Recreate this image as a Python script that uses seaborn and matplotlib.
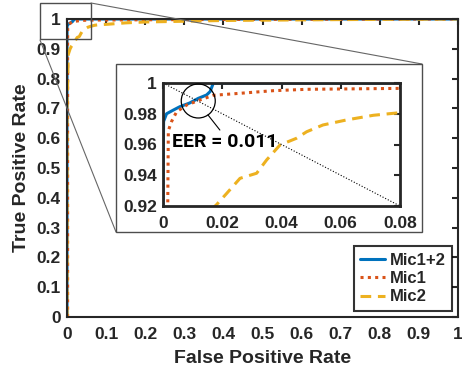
import numpy as np
import pandas as pd
import matplotlib
matplotlib.use("Agg")
import matplotlib.pyplot as plt
import seaborn as sns
from matplotlib.patches import Rectangle, Ellipse
from matplotlib.lines import Line2D

# ---- data ----
fpr_mic12 = [0, 0, 0.0002, 0.0012, 0.0035, 0.0057, 0.009, 0.0119, 0.0147, 0.0159, 0.017, 1.0]
tpr_mic12 = [0, 0.92, 0.975, 0.980, 0.9824, 0.9846, 0.987, 0.990, 0.9922, 0.9944, 1.0, 1.0]

fpr_mic1 = [0.0016, 0.0016, 0.0018, 0.0029, 0.0046, 0.008, 0.0125, 0.017, 0.026, 0.0372, 0.0485, 0.08, 0.3, 0.6, 1.0]
tpr_mic1 = [0, 0.92, 0.969, 0.975, 0.9813, 0.9857, 0.989, 0.992, 0.9933, 0.995, 0.9959, 0.9965, 0.998, 0.999, 1.0]

fpr_mic2 = [0, 0, 0.002, 0.003, 0.008, 0.012, 0.018, 0.0215, 0.026, 0.0316, 0.035, 0.0395, 0.045,
            0.0485, 0.054, 0.062, 0.071, 0.08, 0.10, 0.15, 0.2, 0.4, 0.7, 1.0]
tpr_mic2 = [0, 0.70, 0.80, 0.88, 0.90, 0.91, 0.9207, 0.9282, 0.938, 0.9413, 0.950, 0.9597, 0.964,
            0.9683, 0.9727, 0.976, 0.979, 0.9807, 0.982, 0.987, 0.99, 0.995, 0.998, 1.0]

series_names = ["Mic1+2", "Mic1", "Mic2"]
eer_value = 0.011
main_ticks = [round(0.1 * i, 1) for i in range(11)]
inset_xticks = [0, 0.02, 0.04, 0.06, 0.08]
inset_yticks = [0.92, 0.94, 0.96, 0.98, 1]

colors = ["#0072BD", "#D95319", "#EDB120"]
styles = ["-", (0, (1, 1.4)), (0, (3.5, 2.2))]
lws = [2.2, 2.2, 2.2]

sns.set_style("white")
plt.rcParams["font.family"] = ["Liberation Sans", "DejaVu Sans"]
plt.rcParams["font.weight"] = "bold"

W, H = 462, 370
fig = plt.figure(figsize=(W / 100, H / 100), dpi=100)

def fx(px):
    return px / W

def fy(py):
    return 1 - py / H

TICK_FS = 12.5

# main axes
ax = fig.add_axes([fx(67), fy(317), fx(458) - fx(67), fy(19) - fy(317)])
ax.set_zorder(0)

data = [(fpr_mic12, tpr_mic12), (fpr_mic1, tpr_mic1), (fpr_mic2, tpr_mic2)]
for (x, y), name, c, ls, lw in zip(data, series_names, colors, styles, lws):
    df = pd.DataFrame({"fpr": x, "tpr": y})
    sns.lineplot(data=df, x="fpr", y="tpr", ax=ax, color=c, linestyle=ls, lw=lw,
                 sort=False, estimator=None, label=name)

ax.set_xlim(0, 1)
ax.set_ylim(0, 1)
ax.set_xticks(main_ticks)
ax.set_yticks(main_ticks)
ax.set_xticklabels([("%g" % t) for t in main_ticks])
ax.set_yticklabels([("%g" % t) for t in main_ticks])
ax.tick_params(direction="in", length=4, width=1.5, top=True, right=True,
               labelsize=TICK_FS, colors="#262626")
ax.tick_params(axis="x", pad=7.5)
ax.tick_params(axis="y", pad=4.5)
for t in ax.get_xticklabels() + ax.get_yticklabels():
    t.set_fontweight("bold")
for s in ax.spines.values():
    s.set_color("#262626")
    s.set_linewidth(1.5)
ax.set_xlabel("False Positive Rate", fontsize=14, fontweight="bold", color="#262626")
ax.set_ylabel("True Positive Rate", fontsize=14, fontweight="bold", color="#262626")
ax.xaxis.set_label_coords(0.5, -0.11)
ax.yaxis.set_label_coords(-0.095, 0.5)

leg = ax.legend(loc="lower right", bbox_to_anchor=(0.985, 0.02), borderaxespad=0,
                frameon=True, fancybox=False, handlelength=1.5, handletextpad=0.25,
                borderpad=0.4, labelspacing=0.2, prop={"weight": "bold", "size": 12})
leg.get_frame().set_edgecolor("black")
leg.get_frame().set_linewidth(1.5)

# zoom rectangle & connectors (figure coordinates)
fig.add_artist(Rectangle((fx(40), fy(39)), fx(91) - fx(40), fy(3) - fy(39),
                         transform=fig.transFigure, fill=False, ec="#4d4d4d", lw=1, zorder=2))
fig.add_artist(Line2D([fx(91), fx(422)], [fy(3), fy(64)], transform=fig.transFigure,
                      color="#666666", lw=0.8, zorder=2))
fig.add_artist(Line2D([fx(40), fx(116)], [fy(40), fy(232)], transform=fig.transFigure,
                      color="#666666", lw=0.8, zorder=2))
fig.add_artist(Rectangle((fx(116), fy(232)), fx(422) - fx(116), fy(64) - fy(232),
                         transform=fig.transFigure, fc="white", ec="#4d4d4d", lw=1, zorder=2))

# inset axes
ins = fig.add_axes([fx(163), fy(206), fx(400) - fx(163), fy(83) - fy(206)])
ins.set_zorder(3)
for (x, y), c, ls, lw in zip(data, colors, styles, lws):
    df = pd.DataFrame({"fpr": x, "tpr": y})
    sns.lineplot(data=df, x="fpr", y="tpr", ax=ins, color=c, linestyle=ls, lw=lw,
                 sort=False, estimator=None, legend=False)
ins.plot([0, 0.08], [1, 0.92], color="black", ls=":", lw=0.8)
ins.set_xlim(0, 0.08)
ins.set_ylim(0.92, 1)
ins.set_xticks(inset_xticks)
ins.set_yticks(inset_yticks)
ins.set_xticklabels(["%g" % t for t in inset_xticks])
ins.set_yticklabels(["%g" % t for t in inset_yticks])
ins.set_xlabel("")
ins.set_ylabel("")
ins.tick_params(direction="in", length=4, width=1.5, top=True, right=True,
                labelsize=TICK_FS, colors="#262626")
ins.tick_params(axis="x", pad=7.5)
ins.tick_params(axis="y", pad=4.5)
for t in ins.get_xticklabels() + ins.get_yticklabels():
    t.set_fontweight("bold")
for s in ins.spines.values():
    s.set_color("#262626")
    s.set_linewidth(2)

ins.add_patch(Ellipse((0.0119, 0.9883), 2 * 17 / 2963, 2 * 17 / 1537.5, fill=False,
                      ec="black", lw=0.9, clip_on=False, zorder=5))
ins.plot([0.0152, 0.0192], [0.9792, 0.9694], color="black", lw=0.8)
ins.text(0.0032, 0.9618, "EER = %.3f" % eer_value, fontsize=14, fontweight="bold",
         family=["Roboto", "DejaVu Sans"], ha="left", va="center", color="black", zorder=6)

fig.savefig("out.png", dpi=100)
